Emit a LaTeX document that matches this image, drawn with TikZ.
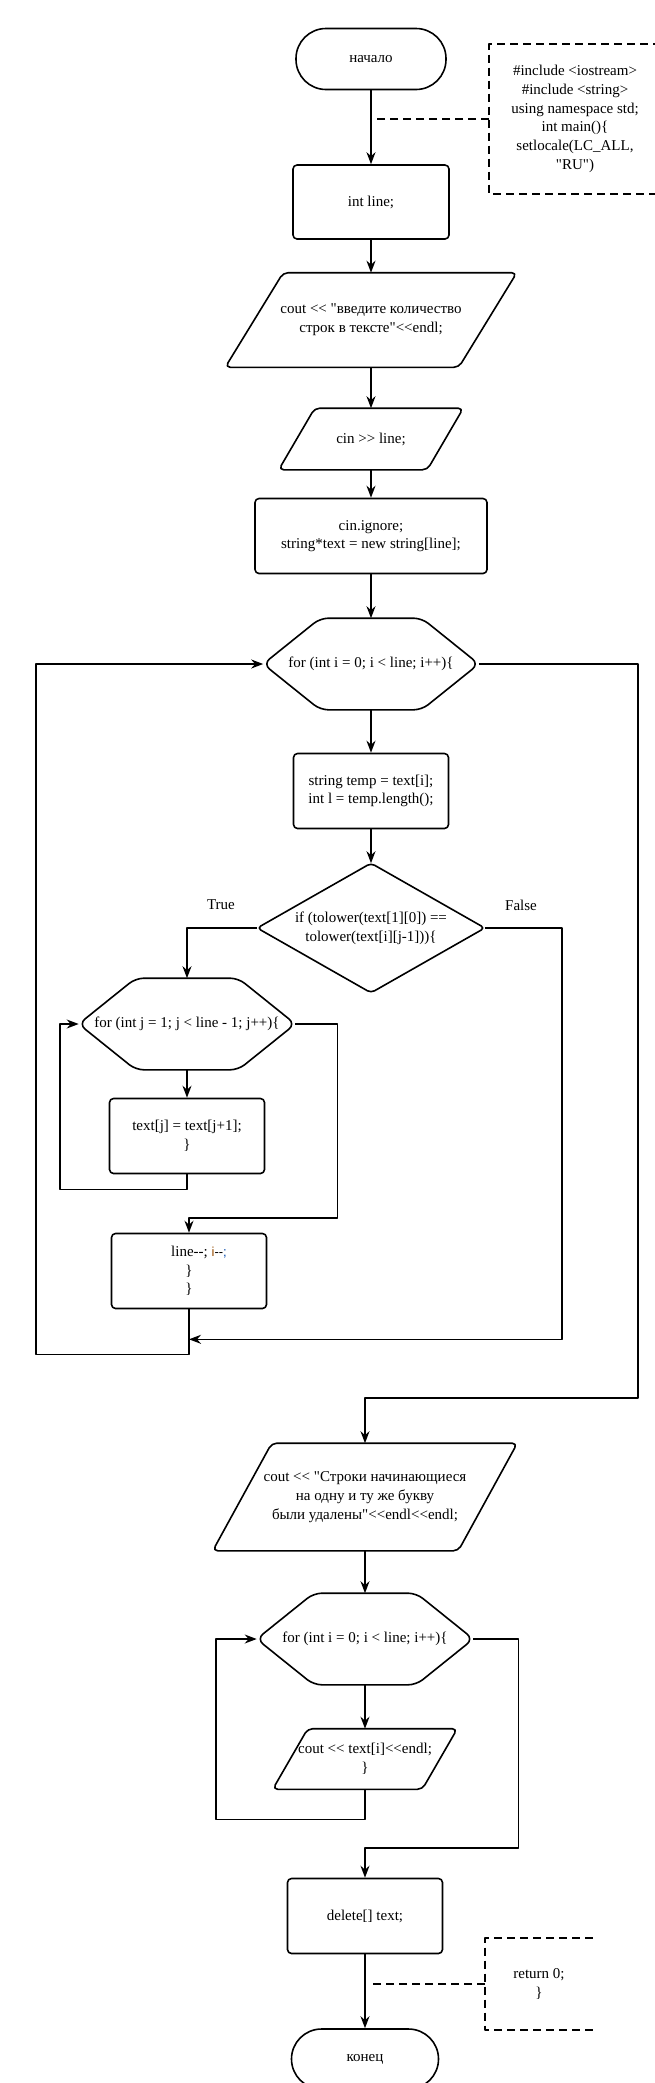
\documentclass[tikz,border=0pt]{standalone}
\usepackage{fontspec}
\setmainfont{Liberation Serif}[Ligatures=TeXOff]
\setsansfont{Liberation Sans}[Ligatures=TeXOff]
\usepackage{xcolor}
\usepackage{tikz}
\usetikzlibrary{arrows.meta,calc}
\definecolor{decbrown}{RGB}{150,75,0}
\definecolor{decblue}{RGB}{0,70,170}
\newcommand{\decr}{-\kern0pt-}

\tikzset{
  term/.style={draw, rounded corners=30pt, minimum width=150pt, minimum height=61pt, inner sep=0pt},
  proc/.style={draw, rounded corners=4pt, minimum width=155pt, minimum height=75pt, inner sep=0pt, align=center},
  io/.style={inner sep=0pt, align=center},
  loopbox/.style={inner sep=0pt, align=center, minimum width=215pt, minimum height=90pt},
  note/.style={inner sep=0pt, align=center},
  link/.style={dashed, dash pattern=on 8pt off 5pt},
}

\begin{document}
\begin{tikzpicture}[x=1pt, y=-1pt, line width=1.6pt, line join=round,
    >={Stealth[length=12pt,width=9pt]}, font=\fontsize{15}{18.7}\selectfont]
    \path[use as bounding box] (0,0) rectangle (655,2083);

    % main part
    \node[term] (start) at (371,59) {начало};
    \node[note, minimum width=170pt, minimum height=148pt] (incl) at (575,119)
        {\#include <iostream>\\ \#include <string>\\ using namespace std;\\ int main()\{\\ setlocale(LC\_ALL,\\ "RU")};
    \node[proc, minimum width=156pt, minimum height=74pt] (decl) at (371,202) {int line;};
    \node[io, minimum width=290pt, minimum height=93pt] (ask) at (371,320)
        {cout << "введите количество\\ строк в тексте"<<endl;};
    \node[io, minimum width=183pt, minimum height=60pt] (read) at (371,439) {cin >> line;};
    \node[proc, minimum width=232pt] (alloc) at (371,536) {cin.ignore;\\ string*text = new string[line];};
    \node[loopbox, minimum width=214pt] (fori) at (371,664) {for (int i = 0; i < line; i++)\{};
    \node[proc] (temp) at (371,791) {string temp = text[i];\\ int l = temp.length();};
    \node[io, minimum width=226pt, minimum height=128pt] (cond) at (371,928)
        {if (tolower(text[1][0]) ==\\ tolower(text[i][j-1]))\{};
    \node (yes) at (221,905) {True};
    \node (no) at (521,905) {False};

    % inner loop
    \node[loopbox] (forj) at (187,1024) {for (int j = 1; j < line - 1; j++)\{};
    \node[proc] (shift) at (187,1136) {text[j] = text[j+1];\\ \}};
    \node[proc] (shrink) at (189,1271)
        {\hspace*{20pt}line--; {\sffamily\fontsize{13}{18.7}\selectfont\color{decbrown}i\color{black}--\color{decblue};}\\ \}\\ \}};
    \coordinate (jn) at ([yshift=-30pt]shrink.south);

    % output part
    \node[io, minimum width=303pt, minimum height=106pt] (msg) at (365,1497)
        {cout << "Строки начинающиеся\\ на одну и ту же букву\\ были удалены"<<endl<<endl;};
    \node[loopbox] (fork) at (365,1639) {for (int i = 0; i < line; i++)\{};
    \node[io, minimum width=183pt, minimum height=59pt] (out) at (365,1759) {cout << text[i]<<endl;\\ \}};
    \node[proc] (free) at (365,1916) {delete[] text;};
    \node[term, minimum width=147pt, minimum height=60pt] (stop) at (365,2059) {конец};
    \node[note, minimum width=106pt, minimum height=90pt] (ret) at (539,1984) {return 0;\\ \}};

    % outlines
    \foreach \n in {fori,forj,fork}
        \draw[rounded corners=8pt] (\n.north) -- ([xshift=-57pt]\n.north east) -- (\n.east)
            -- ([xshift=-57pt]\n.south east) -- ([xshift=57pt]\n.south west) -- (\n.west)
            -- ([xshift=57pt]\n.north west) -- cycle;
    \foreach \n/\s in {ask/58,read/36,msg/59,out/35}
        \draw[rounded corners=5pt] (\n.north) -- (\n.north east) -- ([xshift=-\s]\n.south east)
            -- (\n.south west) -- ([xshift=\s]\n.north west) -- cycle;
    \draw[rounded corners=4pt] ($(cond.north)!0.5!(cond.east)$) -- (cond.east) -- (cond.south)
        -- (cond.west) -- (cond.north) -- cycle;
    \draw[link] (incl.north east) -- (incl.north west) -- (incl.south west) -- (incl.south east);
    \draw[link] (ret.north east) -- (ret.north west) -- (ret.south west) -- (ret.south east);

    % connectors
    \draw[link] (incl.west) -- ++(-113,0);
    \draw[link] (ret.west) -- ++(-114,0);
    \draw[->] (start) -- (decl);
    \draw[->] (decl) -- (ask);
    \draw[->] (ask) -- (read);
    \draw[->] (read) -- (alloc);
    \draw[->] (alloc) -- (fori);
    \draw[->] (fori.south) -- (temp.north);
    \draw[->] (temp.south) -- (cond.north);
    \draw[->] (cond.west) -| (forj.north);
    \draw[->] (forj.south) -- (shift.north);
    \draw[->] (shift.south) -- ++(0,15) -| ([xshift=-19pt]forj.west) -- (forj.west);
    \draw[->] (forj.east) -- ++(42,0) |- ([yshift=15pt]shrink.north) -- (shrink.north);
    \draw[->] (cond.east) -- ++(77,0) |- (jn);
    \draw[->] (shrink.south) -- ++(0,45) -| ([xshift=-227pt]fori.west) -- (fori.west);
    \draw[->] (fori.east) -- ++(159,0) |- ([yshift=45pt]msg.north) -- (msg.north);
    \draw[->] (msg.south) -- (fork.north);
    \draw[->] (fork.south) -- (out.north);
    \draw[->] (out.south) -- ++(0,30) -| ([xshift=-41pt]fork.west) -- (fork.west);
    \draw[->] (fork.east) -- ++(45,0) |- ([yshift=30pt]free.north) -- (free.north);
    \draw[->] (free) -- (stop);
\end{tikzpicture}
\end{document}
